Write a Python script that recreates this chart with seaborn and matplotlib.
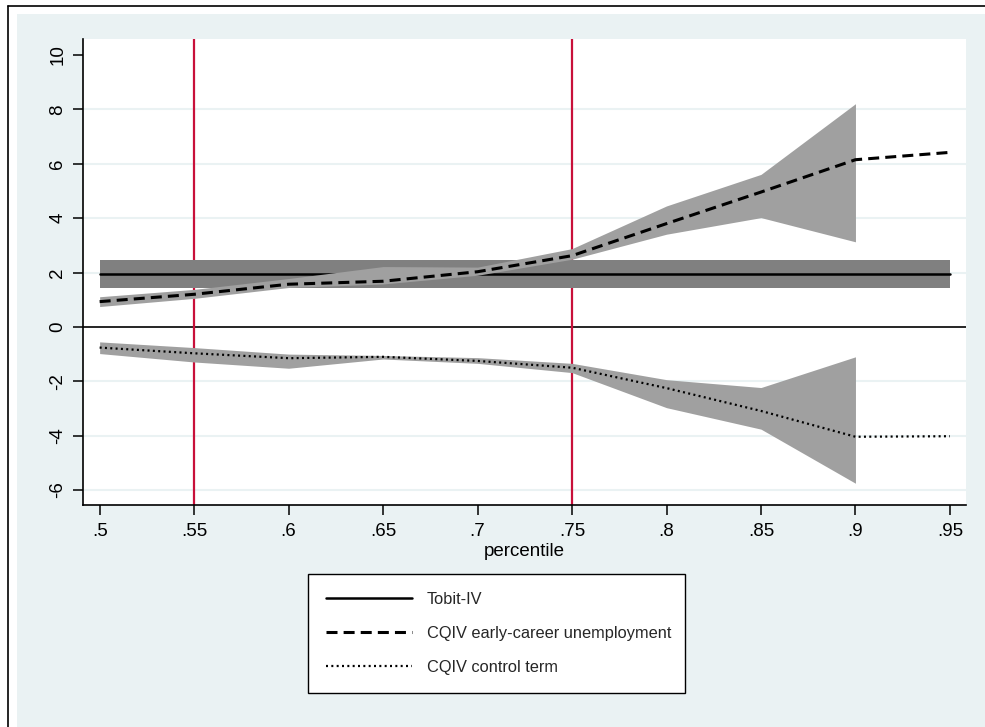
import numpy as np
import pandas as pd
import seaborn as sns
import matplotlib.pyplot as plt
from matplotlib.lines import Line2D
from matplotlib.patches import Rectangle

# data
pct = [0.50, 0.55, 0.60, 0.65, 0.70, 0.75, 0.80, 0.85, 0.90, 0.95]
pct_labels = ['.5', '.55', '.6', '.65', '.7', '.75', '.8', '.85', '.9', '.95']

tobit = [1.96] * 10
tobit_lo = [1.43] * 10
tobit_hi = [2.45] * 10

unemp = [0.93, 1.20, 1.57, 1.68, 2.03, 2.62, 3.80, 4.96, 6.15, 6.42]
unemp_lo = [0.75, 1.05, 1.45, 1.58, 1.90, 2.49, 3.41, 4.02, 3.13, np.nan]
unemp_hi = [1.11, 1.38, 1.78, 2.22, 2.20, 2.88, 4.45, 5.61, 8.21, np.nan]

control = [-0.76, -0.97, -1.15, -1.10, -1.25, -1.50, -2.25, -3.09, -4.04, -4.02]
control_lo = [-0.98, -1.29, -1.52, -1.18, -1.34, -1.68, -2.97, -3.76, -5.75, np.nan]
control_hi = [-0.55, -0.76, -1.00, -1.05, -1.13, -1.34, -1.94, -2.23, -1.10, np.nan]

vlines = [0.55, 0.75]
yticks = [-6, -4, -2, 0, 2, 4, 6, 8, 10]
gridlines = [-6, -4, -2, 2, 4, 6, 8]

df = pd.DataFrame({'pct': pct, 'tobit': tobit, 'tobit_lo': tobit_lo, 'tobit_hi': tobit_hi,
                   'unemp': unemp, 'unemp_lo': unemp_lo, 'unemp_hi': unemp_hi,
                   'control': control, 'control_lo': control_lo, 'control_hi': control_hi})

sns.set_theme(style='white')
plt.rcParams['font.family'] = ['Liberation Sans', 'DejaVu Sans']

bg = '#EAF2F3'
fig = plt.figure(figsize=(9.85, 7.27), dpi=100)
fig.patch.set_facecolor('white')
W, H = 985.0, 727.0
# stata style graph region + outer frame
fig.patches.append(Rectangle((17 / W, 0), 1, 1 - 14 / H, transform=fig.transFigure,
                             facecolor=bg, edgecolor='none', zorder=-5))
fig.lines.append(Line2D([8 / W, 8 / W], [0, 1 - 6 / H], transform=fig.transFigure,
                        color='black', lw=1.2, zorder=-4))
fig.lines.append(Line2D([8 / W, 1], [1 - 6 / H, 1 - 6 / H], transform=fig.transFigure,
                        color='black', lw=1.2, zorder=-4))

ax = fig.add_axes([83 / W, 1 - 505 / H, (966 - 83) / W, (505 - 39) / H])
ax.set_facecolor('white')

for g in gridlines:
    ax.axhline(g, color=bg, lw=1.5, zorder=0.5)
ax.axhline(0, color='black', lw=1.2, zorder=1)
for v in vlines:
    ax.axvline(v, color='#C8103A', lw=1.6, zorder=1.5)

# confidence bands
ax.fill_between(df.pct, df.tobit_lo, df.tobit_hi, color='#808080', lw=0, zorder=2)
sns.lineplot(data=df, x='pct', y='tobit', ax=ax, color='black', lw=1.8, zorder=2.5,
             label='Tobit-IV')
ax.fill_between(df.pct, df.unemp_lo, df.unemp_hi, color='#A0A0A0', lw=0, zorder=3)
ax.fill_between(df.pct, df.control_lo, df.control_hi, color='#A0A0A0', lw=0, zorder=3)
sns.lineplot(data=df, x='pct', y='unemp', ax=ax, color='black', lw=2.2, zorder=4,
             linestyle=(0, (3.6, 2.0)), label='CQIV early-career unemployment')
sns.lineplot(data=df, x='pct', y='control', ax=ax, color='black', lw=1.6, zorder=4,
             linestyle=(0, (0.9, 1.5)), label='CQIV control term')

handles, labels = ax.get_legend_handles_labels()
if ax.get_legend() is not None:
    ax.get_legend().remove()

ax.set_xlim(0.4912, 0.9585)
ax.set_ylim(-6.55, 10.59)
ax.set_xticks(pct)
ax.set_xticklabels(pct_labels)
ax.set_yticks(yticks)
ax.set_yticklabels([str(t) for t in yticks], rotation=90, va='center')
ax.tick_params(axis='both', direction='out', length=7, width=1.1, color='black',
               labelsize=13.5, labelcolor='black', bottom=True, left=True)
ax.tick_params(axis='y', pad=5)
ax.tick_params(axis='x', pad=6)
ax.set_xlabel('percentile', fontsize=13.5, labelpad=2, color='black')
ax.set_ylabel('')

for s in ['top', 'right']:
    ax.spines[s].set_visible(False)
for s in ['left', 'bottom']:
    ax.spines[s].set_color('black')
    ax.spines[s].set_linewidth(1.2)

leg = fig.legend(handles, labels, loc='upper left',
                 bbox_to_anchor=(308 / W, 1 - 688 / H, (685 - 308) / W, (688 - 574) / H),
                 mode='expand', fontsize=11.8, handlelength=5.25, handletextpad=0.9,
                 labelspacing=1.15, borderpad=1.1, frameon=True, fancybox=False,
                 borderaxespad=0)
leg.get_frame().set_edgecolor('black')
leg.get_frame().set_linewidth(1.0)
leg.get_frame().set_facecolor('white')
leg.get_frame().set_alpha(1)

fig.savefig('out.png', dpi=100, facecolor=fig.get_facecolor())
